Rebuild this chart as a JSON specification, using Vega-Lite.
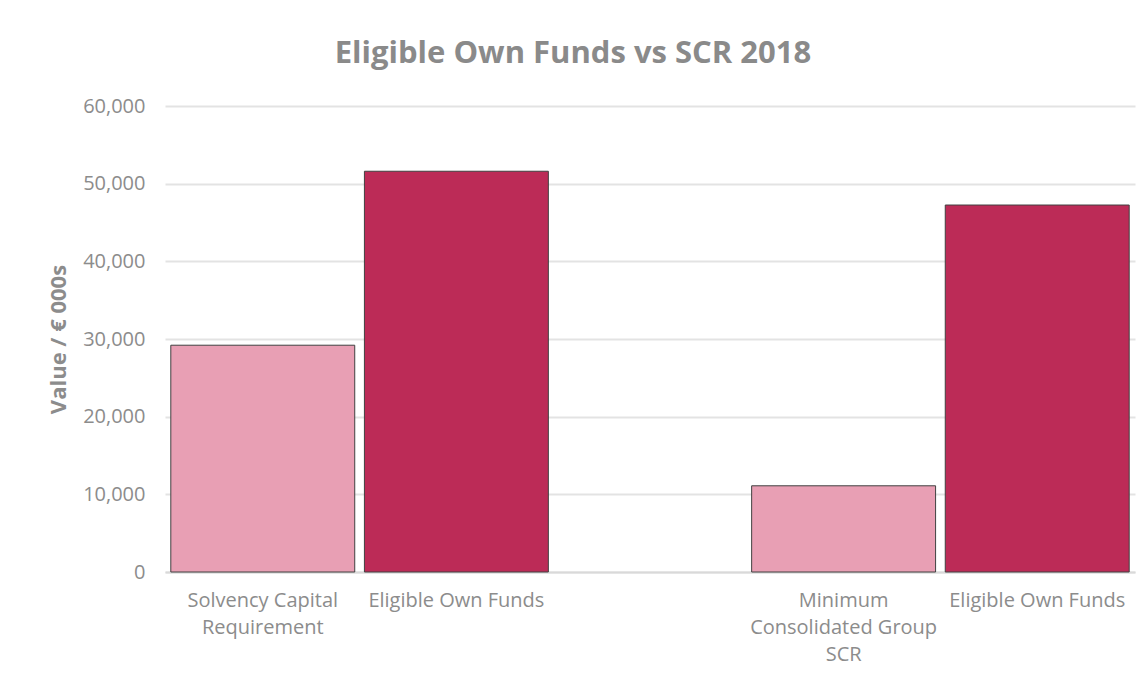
{
  "$schema": "https://vega.github.io/schema/vega-lite/v6.json",
  "autosize": "none",
  "width": 970,
  "height": 466,
  "padding": {"left": 165, "top": 106, "right": 12, "bottom": 107},
  "background": "white",
  "title": {
    "text": "Eligible Own Funds vs SCR 2018",
    "font": "Open Sans",
    "fontSize": 31,
    "fontWeight": "bold",
    "color": "#8a8a8a",
    "anchor": "middle",
    "dx": -77,
    "offset": 26
  },
  "data": {
    "values": [
      {"id": "scr", "kind": "requirement", "value": 29200},
      {"id": "eof1", "kind": "funds", "value": 51600},
      {"id": "mcg", "kind": "requirement", "value": 11100},
      {"id": "eof2", "kind": "funds", "value": 47250}
    ]
  },
  "mark": {"type": "bar", "stroke": "#404040", "strokeWidth": 1},
  "encoding": {
    "x": {
      "field": "id",
      "type": "nominal",
      "sort": null,
      "scale": {"domain": ["scr", "eof1", "gap", "mcg", "eof2"], "paddingInner": 0.05, "paddingOuter": 0.03},
      "axis": {
        "title": null,
        "labelAngle": 0,
        "labelExpr": "datum.value == 'scr' ? ['Solvency Capital', 'Requirement'] : datum.value == 'mcg' ? ['Minimum', 'Consolidated Group', 'SCR'] : datum.value == 'gap' ? '' : 'Eligible Own Funds'",
        "labelFont": "Open Sans",
        "labelFontSize": 20,
        "labelColor": "#8c8c8c",
        "labelLineHeight": 27,
        "labelPadding": 18,
        "labelBaseline": "top",
        "labelLimit": 400,
        "labelOverlap": false,
        "ticks": false,
        "domainColor": "#d9d9d9",
        "domainWidth": 2,
        "grid": false
      }
    },
    "y": {
      "field": "value",
      "type": "quantitative",
      "scale": {"domain": [0, 60000]},
      "axis": {
        "title": "Value / € 000s",
        "titleFont": "Open Sans",
        "titleFontSize": 22,
        "titleFontWeight": "bold",
        "titleColor": "#8c8c8c",
        "titlePadding": 12,
        "values": [0, 10000, 20000, 30000, 40000, 50000, 60000],
        "format": ",d",
        "labelFont": "Open Sans",
        "labelFontSize": 20,
        "labelColor": "#8c8c8c",
        "labelPadding": 20,
        "ticks": false,
        "domain": false,
        "gridColor": "#e3e3e3",
        "gridWidth": 2
      }
    },
    "color": {
      "field": "kind",
      "type": "nominal",
      "scale": {"domain": ["requirement", "funds"], "range": ["#E89FB4", "#BC2B57"]},
      "legend": null
    }
  },
  "config": {"view": {"stroke": null}}
}
